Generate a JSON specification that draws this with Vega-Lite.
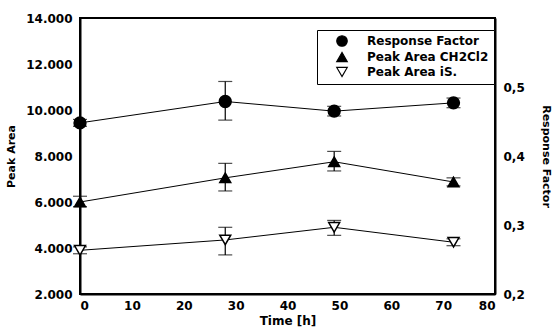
{
  "$schema": "https://vega.github.io/schema/vega-lite/v6.json",
  "width": 415,
  "height": 276,
  "autosize": "none",
  "padding": {"left": 80, "top": 18, "right": 57, "bottom": 41},
  "background": "white",
  "config": {
    "locale": {"number": {"decimal": ",", "thousands": ".", "grouping": [3], "currency": ["", "€"]}},
    "font": "DejaVu Sans",
    "view": {"stroke": "black", "strokeWidth": 2},
    "axis": {
      "domainColor": "black", "domainWidth": 2, "ticks": false, "grid": false,
      "labelFont": "DejaVu Sans", "labelFontWeight": "bold", "labelFontSize": 12, "labelColor": "black",
      "titleFont": "DejaVu Sans", "titleFontWeight": "bold", "titleFontSize": 12, "titleColor": "black"
    },
    "legend": {"labelFont": "DejaVu Sans", "labelFontWeight": "bold", "labelFontSize": 12, "labelColor": "black"}
  },
  "data": {"values": [
    {"series": "Response Factor", "axis": "right", "t": 0, "v": 0.448, "lo": 0.443, "hi": 0.453},
    {"series": "Response Factor", "axis": "right", "t": 28, "v": 0.479, "lo": 0.452, "hi": 0.508},
    {"series": "Response Factor", "axis": "right", "t": 49, "v": 0.465, "lo": 0.458, "hi": 0.472},
    {"series": "Response Factor", "axis": "right", "t": 72, "v": 0.477, "lo": 0.470, "hi": 0.484},
    {"series": "Peak Area CH2Cl2", "axis": "left", "t": 0, "v": 6000, "lo": 5800, "hi": 6250},
    {"series": "Peak Area CH2Cl2", "axis": "left", "t": 28, "v": 7050, "lo": 6480, "hi": 7680},
    {"series": "Peak Area CH2Cl2", "axis": "left", "t": 49, "v": 7750, "lo": 7350, "hi": 8200},
    {"series": "Peak Area CH2Cl2", "axis": "left", "t": 72, "v": 6870, "lo": 6700, "hi": 7050},
    {"series": "Peak Area iS.", "axis": "left", "t": 0, "v": 3900, "lo": 3750, "hi": 4050},
    {"series": "Peak Area iS.", "axis": "left", "t": 28, "v": 4350, "lo": 3700, "hi": 4900},
    {"series": "Peak Area iS.", "axis": "left", "t": 49, "v": 4900, "lo": 4550, "hi": 5200},
    {"series": "Peak Area iS.", "axis": "left", "t": 72, "v": 4250, "lo": 4100, "hi": 4400}
  ]},
  "encoding": {
    "x": {"field": "t", "type": "quantitative", "scale": {"domain": [0, 80], "nice": false},
      "axis": {"title": "Time [h]", "values": [0, 10, 20, 30, 40, 50, 60, 70, 80], "labelPadding": 6, "titlePadding": 4}}
  },
  "layer": [
    {
      "transform": [{"filter": "datum.axis == 'left'"}],
      "layer": [
        {"mark": {"type": "line", "color": "black", "strokeWidth": 1},
          "encoding": {"y": {"field": "v", "type": "quantitative", "title": "Peak Area", "scale": {"domain": [2000, 14000], "nice": false}, "axis": {"orient": "left", "values": [2000, 4000, 6000, 8000, 10000, 12000, 14000], "format": ",d", "labelPadding": 8, "titlePadding": 9, "titleFontSize": 11}},
            "detail": {"field": "series"}}},
        {"mark": {"type": "errorbar", "ticks": {"size": 14, "color": "black", "thickness": 1.2}, "rule": {"color": "black", "strokeWidth": 1.2}},
          "encoding": {"y": {"field": "lo", "type": "quantitative", "title": "Peak Area"}, "y2": {"field": "hi"}, "detail": {"field": "series"}}},
        {"mark": {"type": "point", "filled": false, "stroke": "black", "strokeWidth": 1.5, "opacity": 1, "size": 120},
          "encoding": {"y": {"field": "v", "type": "quantitative", "title": "Peak Area"},
            "shape": {"field": "series", "type": "nominal", "title": null, "scale": {"domain": ["Response Factor", "Peak Area CH2Cl2", "Peak Area iS."], "range": ["circle", "triangle-up", "triangle-down"]}},
            "fill": {"field": "series", "type": "nominal", "title": null, "scale": {"domain": ["Response Factor", "Peak Area CH2Cl2", "Peak Area iS."], "range": ["black", "black", "white"]}}}}
      ]
    },
    {
      "transform": [{"filter": "datum.axis == 'right'"}],
      "layer": [
        {"mark": {"type": "line", "color": "black", "strokeWidth": 1},
          "encoding": {"y": {"field": "v", "type": "quantitative", "title": "Response Factor", "scale": {"domain": [0.2, 0.6], "nice": false}, "axis": {"orient": "right", "values": [0.2, 0.3, 0.4, 0.5], "format": ".1f", "labelPadding": 8, "titlePadding": 16, "titleFontSize": 11}}}},
        {"mark": {"type": "errorbar", "ticks": {"size": 14, "color": "black", "thickness": 1.2}, "rule": {"color": "black", "strokeWidth": 1.2}},
          "encoding": {"y": {"field": "lo", "type": "quantitative", "title": "Response Factor"}, "y2": {"field": "hi"}}},
        {"mark": {"type": "point", "filled": false, "stroke": "black", "strokeWidth": 1.5, "opacity": 1, "size": 140},
          "encoding": {"y": {"field": "v", "type": "quantitative", "title": "Response Factor"},
            "shape": {"field": "series", "type": "nominal", "title": null, "legend": {"orient": "none", "legendX": 237, "legendY": 12, "strokeColor": "black", "fillColor": "white", "padding": 5, "rowPadding": 1, "symbolSize": 110, "symbolStrokeWidth": 1.2, "symbolOffset": 14, "labelOffset": 19}},
            "fill": {"field": "series", "type": "nominal", "title": null}}}
      ]
    }
  ],
  "resolve": {"scale": {"y": "independent"}}
}
